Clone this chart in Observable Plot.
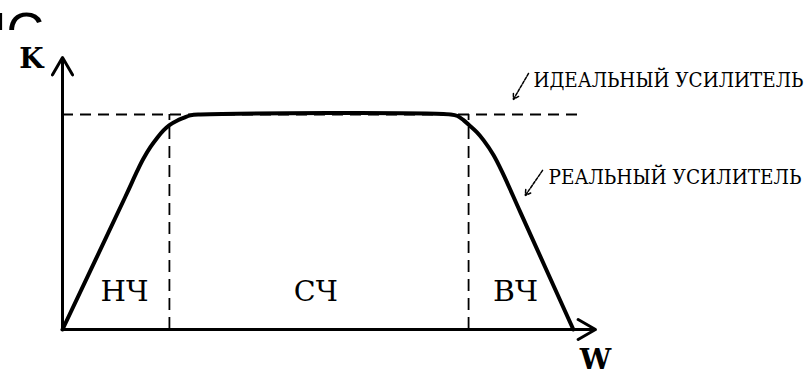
<!DOCTYPE html>
<html>
<head>
<meta charset="utf-8">
<script src="https://cdn.jsdelivr.net/npm/d3@7"></script>
<script src="https://cdn.jsdelivr.net/npm/@observablehq/plot@0.6"></script>
<style>
  html, body { margin: 0; padding: 0; background: #fff; }
  #wrap { position: relative; width: 810px; height: 375px; overflow: hidden; }
  #title { position: absolute; left: 0; top: 0; width: 120px; height: 30px; overflow: hidden; }
  #title span { position: absolute; left: -31px; top: 5px; height: 25px; overflow: hidden; font-family: "Liberation Sans", Arial, sans-serif; font-size: 52px; line-height: 52px; color: #000; white-space: nowrap; }
  #chart { position: absolute; left: 0; top: 0; }
</style>
</head>
<body>
<div id="wrap">
  <div id="chart"></div>
  <div id="title"><span>ИС</span></div>
</div>
<script>
// Real amplifier frequency response (ω in arbitrary units, K relative gain)
const realOmega = [0, 1.17, 1.389, 1.50, 1.63, 1.759, 1.87, 1.981, 2.111, 2.241, 2.37, 2.556,
                   7.19, 7.315, 7.426, 7.537, 7.667, 7.796, 7.981, 8.148, 8.48, 9.46];
const realK     = [0, 0.621, 0.74, 0.795, 0.849, 0.893, 0.926, 0.951, 0.97, 0.984, 0.996, 1.0,
                   1.0, 0.993, 0.974, 0.949, 0.919, 0.881, 0.812, 0.730, 0.545, 0];

// Ideal amplifier level and band boundaries
const idealK = 1;
const idealEnd = 9.54;
const bandEdges = [1.98, 7.52];

// Band labels
const bandNames = ["НЧ", "СЧ", "ВЧ"];
const bandCenters = [1.15, 4.69, 8.39];
const bandLabelK = 0.172;

// Axes extents
const axisXEnd = 9.87;
const axisYEnd = 1.265;
const axisNames = ["K", "W"];
const axisNameOmega = [-0.574, 9.87];
const axisNameK = [1.256, -0.144];

// Annotations
const annTexts = ["ИДЕАЛЬНЫЙ УСИЛИТЕЛЬ", "РЕАЛЬНЫЙ УСИЛИТЕЛЬ"];
const annOmega = [8.72, 9.0];
const annK = [1.158, 0.709];
const annArrowFromOmega = [8.63, 8.89];
const annArrowFromK = [1.191, 0.740];
const annArrowToOmega = [8.35, 8.57];
const annArrowToK = [1.070, 0.623];

const real = realOmega.map((w, i) => ({w, k: realK[i]}));
const bands = bandNames.map((n, i) => ({n, w: bandCenters[i], k: bandLabelK}));
const axisLabels = axisNames.map((n, i) => ({n, w: axisNameOmega[i], k: axisNameK[i]}));
const anns = annTexts.map((t, i) => ({
  t, w: annOmega[i], k: annK[i],
  w1: annArrowFromOmega[i], k1: annArrowFromK[i],
  w2: annArrowToOmega[i], k2: annArrowToK[i]
}));

const serif = "'DejaVu Serif', 'Liberation Serif', serif";

const chart = Plot.plot({
  width: 810,
  height: 375,
  style: {background: "#fff", color: "#000"},
  x: {domain: [0, 10], range: [62, 602], axis: null},
  y: {domain: [0, 1], range: [329, 114], axis: null},
  marks: [
    // ideal amplifier (dashed)
    Plot.ruleY([idealK], {x1: 0, x2: idealEnd, stroke: "#000", strokeWidth: 1.8, strokeDasharray: "11,7"}),
    Plot.ruleX(bandEdges, {y1: 0, y2: idealK, stroke: "#000", strokeWidth: 1.8, strokeDasharray: "12,7"}),
    // axes with arrows
    Plot.arrow([{x1: 0, y1: 0, x2: axisXEnd, y2: 0}], {x1: "x1", y1: "y1", x2: "x2", y2: "y2", stroke: "#000", strokeWidth: 3, headLength: 10, bend: 0}),
    Plot.arrow([{x1: 0, y1: 0, x2: 0, y2: axisYEnd}], {x1: "x1", y1: "y1", x2: "x2", y2: "y2", stroke: "#000", strokeWidth: 3, headLength: 10, bend: 0}),
    // real amplifier
    Plot.line(real, {x: "w", y: "k", stroke: "#000", strokeWidth: 4, curve: "catmull-rom", strokeLinejoin: "round"}),
    // band labels
    Plot.text(bands, {x: "w", y: "k", text: "n", fontSize: 28, fontFamily: serif, fill: "#000"}),
    // axis names
    Plot.text(axisLabels, {x: "w", y: "k", text: "n", fontSize: 28, fontFamily: serif, fontWeight: "bold", fill: "#000"}),
    // annotation arrows
    Plot.arrow(anns, {x1: "w1", y1: "k1", x2: "w2", y2: "k2", stroke: "#000", strokeWidth: 1.5, headLength: 6, bend: 0, strokeDasharray: "3,1.5"}),
    // annotation text
    Plot.text(anns, {x: "w", y: "k", text: "t", textAnchor: "start", fontSize: 20.5, fontFamily: serif, fill: "#000"})
  ]
});

// fit texts to their widths in the reference
const widths = {"ИДЕАЛЬНЫЙ УСИЛИТЕЛЬ": 270, "РЕАЛЬНЫЙ УСИЛИТЕЛЬ": 253, "НЧ": 48, "СЧ": 44, "ВЧ": 45};
d3.select(chart).selectAll("text").each(function() {
  const t = this.textContent;
  if (widths[t]) {
    d3.select(this).attr("textLength", widths[t]).attr("lengthAdjust", "spacingAndGlyphs");
  }
});

document.getElementById("chart").appendChild(chart);
</script>
</body>
</html>
